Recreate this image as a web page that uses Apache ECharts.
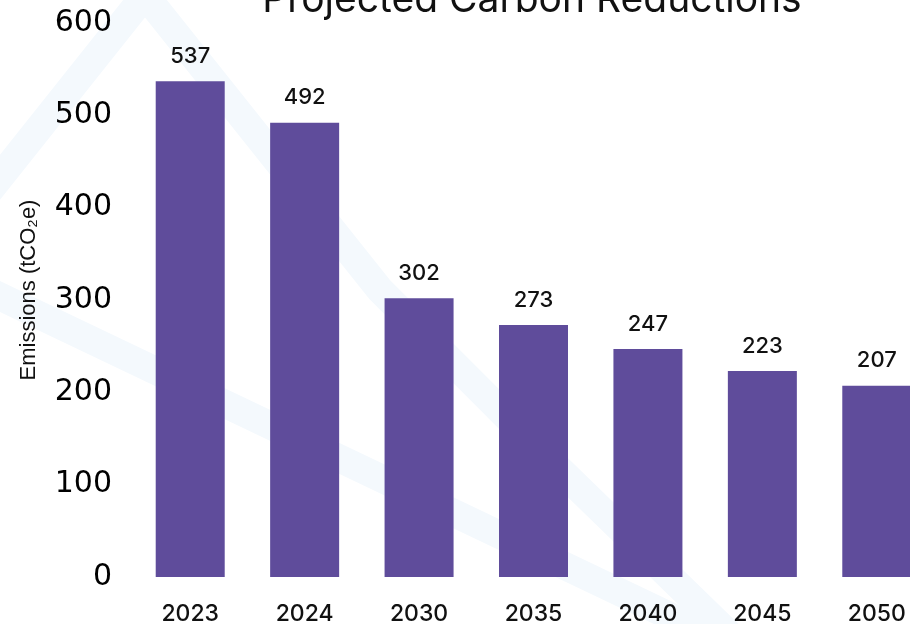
<!DOCTYPE html>
<html>
<head>
<meta charset="utf-8">
<script src="https://cdn.jsdelivr.net/npm/echarts@6/dist/echarts.min.js"></script>
<style>
  html, body { margin: 0; padding: 0; background: #ffffff; overflow: hidden; }
  #chart { width: 910px; height: 624px; }
</style>
</head>
<body>
<div id="chart"></div>
<script>
// Projected emissions by year (tCO2e)
const years = ['2023', '2024', '2030', '2035', '2040', '2045', '2050'];
const emissions = [537, 492, 302, 273, 247, 223, 207];
const yTicks = [0, 100, 200, 300, 400, 500, 600];

const FONT = 'Inter, "Noto Sans", sans-serif';
const TICK_FONT = '"DejaVu Sans", sans-serif';
const NAME_FONT = '"Liberation Sans", Arial, sans-serif';
const BAR = '#5f4c9b';
const BAND = '#f4f9fd';

const chart = echarts.init(document.getElementById('chart'), null, { renderer: 'canvas' });

chart.setOption({
  backgroundColor: '#ffffff',
  animation: false,
  title: {
    text: 'Projected Carbon Reductions',
    left: 527,
    textAlign: 'center',
    top: -24,
    textStyle: { fontFamily: FONT, fontSize: 39, fontWeight: 'normal', color: '#111111' }
  },
  // faint decorative bands behind the plot
  graphic: [
    { type: 'polyline', z: -10, silent: true,
      shape: { points: [[-30, 215], [145, -5], [380, 290], [560, 470], [735, 640]] },
      style: { stroke: BAND, lineWidth: 28, fill: null, lineJoin: 'miter' } },
    { type: 'polyline', z: -10, silent: true,
      shape: { points: [[-20, 287], [720, 640]] },
      style: { stroke: BAND, lineWidth: 28, fill: null } }
  ],
  // plot area runs past the right edge; the last bar is clipped by the frame
  grid: { left: 133, width: 801, top: 23, bottom: 47, containLabel: false, outerBoundsMode: 'none' },
  xAxis: {
    type: 'category',
    data: years,
    axisLine: { show: false },
    axisTick: { show: false },
    axisLabel: { fontFamily: FONT, fontSize: 23, color: '#111111', margin: 26, fontWeight: 500 }
  },
  yAxis: {
    type: 'value',
    min: yTicks[0],
    max: yTicks[yTicks.length - 1],
    interval: 100,
    name: 'Emissions (tCO₂e)',
    nameLocation: 'middle',
    nameGap: 93,
    nameRotate: 90,
    nameTextStyle: { fontFamily: NAME_FONT, fontSize: 22, color: '#111111', padding: [0, 0, 0, 20] },
    splitLine: { show: false },
    axisLine: { show: false },
    axisTick: { show: false },
    axisLabel: { fontFamily: TICK_FONT, fontSize: 30, color: '#000000', margin: 21, padding: [6, 0, 0, 0] }
  },
  series: [{
    type: 'bar',
    data: emissions,
    barWidth: 69,
    itemStyle: { color: BAR },
    label: {
      show: true,
      position: 'top',
      distance: 14,
      fontFamily: FONT,
      fontSize: 22,
      fontWeight: 500,
      color: '#111111'
    }
  }]
});
</script>
</body>
</html>
